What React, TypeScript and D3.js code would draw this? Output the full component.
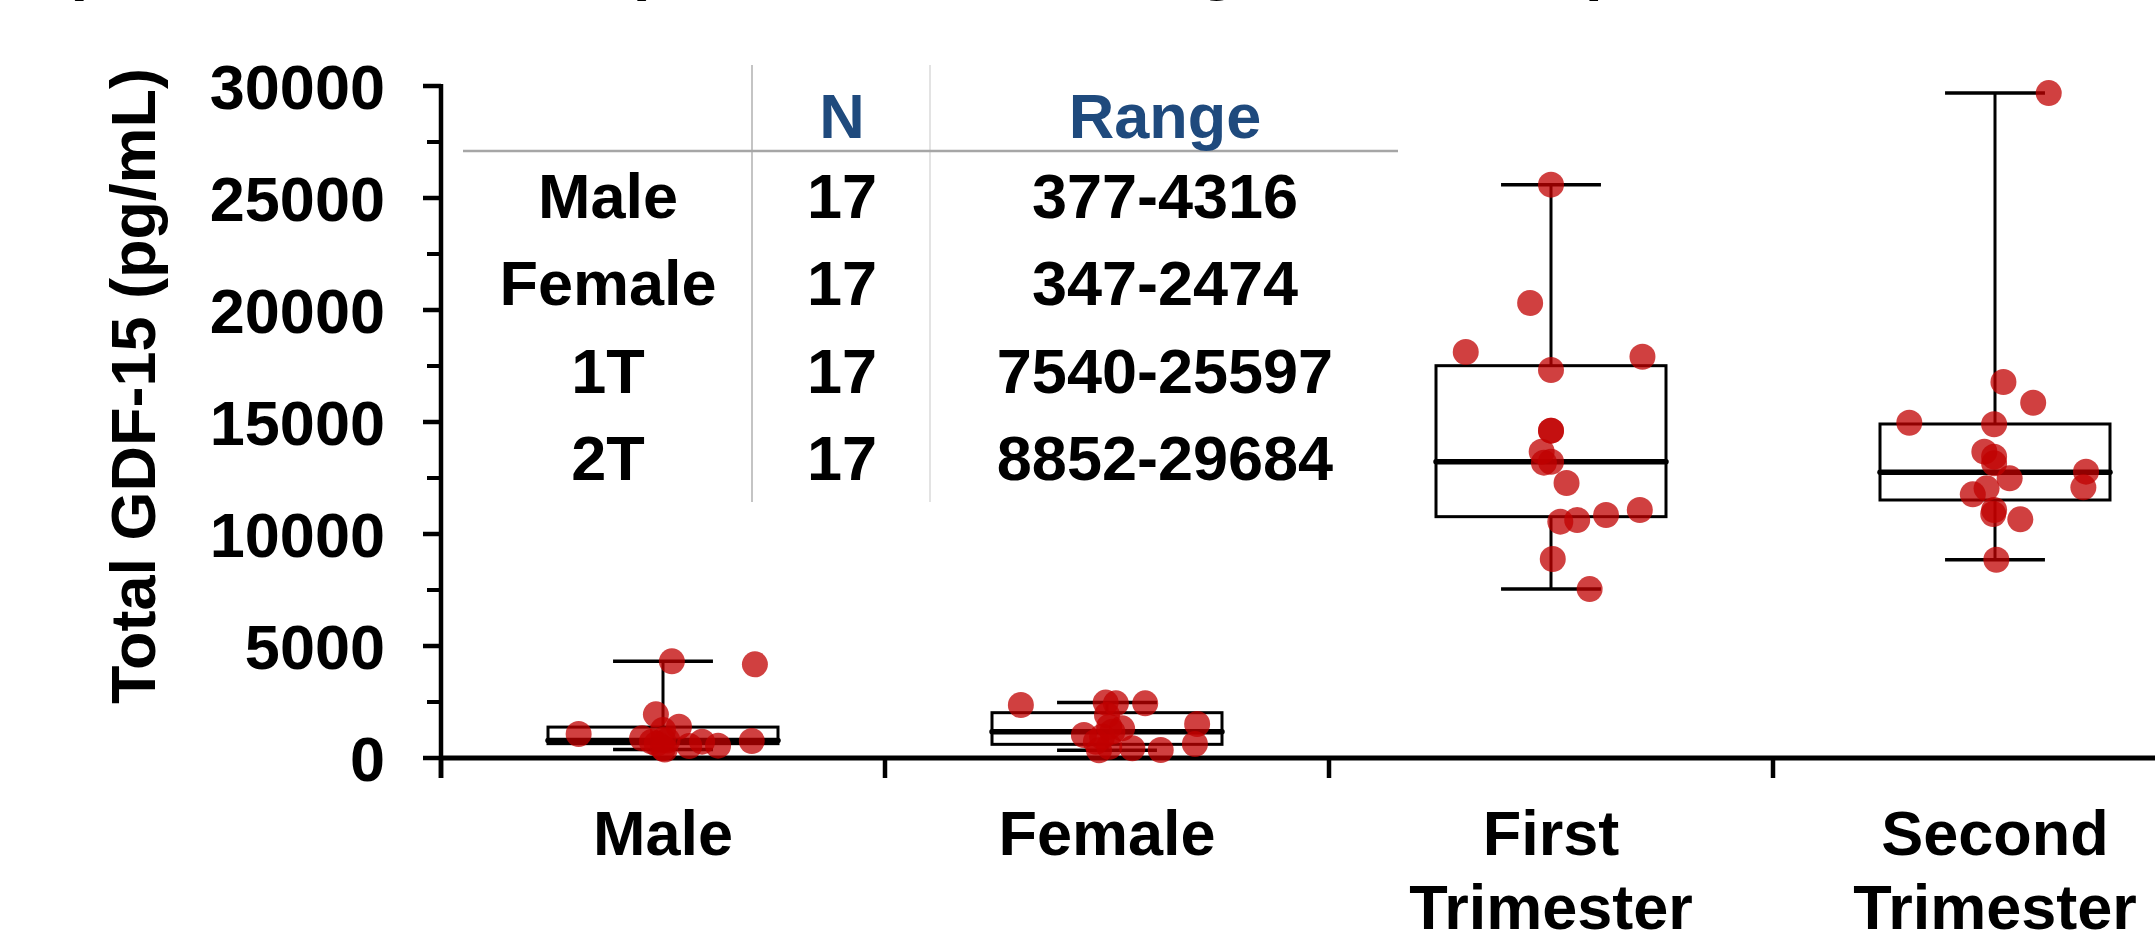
import React from 'react';
import * as d3 from 'd3';

// groups on the x axis
const categories = ['Male', 'Female', 'First Trimester', 'Second Trimester'];
const categoryLines = [['Male'], ['Female'], ['First', 'Trimester'], ['Second', 'Trimester']];

// individual GDF-15 values (pg/mL) and horizontal jitter (fraction of band)
const maleValues = [4316, 4180, 1950, 1400, 1250, 1071, 880, 800, 780, 760, 730, 730, 640, 550, 536, 433, 377];
const maleJitter = [0.02, 0.207, -0.016, 0.036, 0, -0.19, -0.047, 0, 0.01, 0.2, -0.025, 0.088, -0.014, 0.124, 0.059, 0, 0.004];

const femaleValues = [2474, 2440, 2440, 2366, 1920, 1518, 1397, 1325, 1175, 1027, 951, 728, 625, 504, 433, 357, 347];
const femaleJitter = [-0.003, 0.02, 0.086, -0.194, 0, 0.203, 0.005, 0.034, 0.012, -0.052, -0.011, -0.025, 0.198, 0.005, 0.057, 0.121, -0.018];

const firstValues = [25597, 20313, 18125, 17915, 17321, 14613, 14613, 13676, 13228, 13184, 12277, 11071, 10848, 10625, 10550, 8884, 7540];
const firstJitter = [0, -0.047, -0.192, 0.206, 0, 0, 0, -0.021, 0, -0.016, 0.035, 0.2, 0.124, 0.059, 0.021, 0.004, 0.087];

const secondValues = [29684, 16786, 15862, 14969, 14897, 13676, 13452, 13155, 12783, 12485, 12083, 12038, 11771, 11071, 10893, 10655, 8852];
const secondJitter = [0.121, 0.019, 0.086, -0.193, -0.002, -0.024, -0.002, -0.002, 0.205, 0.033, 0.199, -0.019, -0.05, -0.002, -0.004, 0.057, 0.003];

// box summaries
const boxMin = [377, 347, 7540, 8852];
const boxQ1 = [640, 610, 10774, 11518];
const boxMedian = [780, 1175, 13228, 12754];
const boxQ3 = [1380, 2023, 17514, 14911];
const boxMax = [4316, 2474, 25597, 29684];

// inset table
const tableHeader = ['', 'N', 'Range'];
const tableGroups = ['Male', 'Female', '1T', '2T'];
const tableN = ['17', '17', '17', '17'];
const tableRange = ['377-4316', '347-2474', '7540-25597', '8852-29684'];

const yTicks = [0, 5000, 10000, 15000, 20000, 25000, 30000];
const yMinorTicks = [2500, 7500, 12500, 17500, 22500, 27500];

// glyph tails of a caption line cut off at the top edge
const headerFragments = [
  { text: '(', x: 63 },
  { text: ')', x: 637 },
  { text: 'g', x: 1198 },
  { text: 'p', x: 1585 },
];

const W = 2155;
const H = 934;
const FONT = '"Liberation Sans", Arial, Helvetica, sans-serif';
const FS = 63;

const App = () => {
  const groups = [
    { values: maleValues, jitter: maleJitter },
    { values: femaleValues, jitter: femaleJitter },
    { values: firstValues, jitter: firstJitter },
    { values: secondValues, jitter: secondJitter },
  ];

  const axisX = 441;
  const y = d3.scaleLinear().domain([0, 30000]).range([758, 86]);
  const x = d3.scaleBand().domain(categories).range([axisX, axisX + 444 * 4]).padding(0);
  const bw = x.bandwidth();
  const boxW = bw * 0.518;
  const capW = bw * 0.225;

  const tableCols = [608, 842, 1165];
  const rowY = d3.scalePoint<number>().domain([0, 1, 2, 3]).range([218, 480]);

  return (
    <div style={{ position: 'absolute', left: 0, top: 0 }}>
      <svg width={W} height={H} style={{ display: 'block', background: '#fff' }} fontFamily={FONT} fontWeight="bold">
        {headerFragments.map((f, i) => (
          <text key={i} x={f.x} y={-12} fontSize={FS}>
            {f.text}
          </text>
        ))}

        {/* y axis title */}
        <text transform={`translate(155, 386) rotate(-90)`} textAnchor="middle" fontSize={FS}>
          Total GDF-15 (pg/mL)
        </text>

        {/* inset table */}
        <line x1={752} x2={752} y1={65} y2={502} stroke="#b0b0b0" strokeWidth={1.5} />
        <line x1={930} x2={930} y1={65} y2={502} stroke="#dadada" strokeWidth={1.5} />
        <line x1={463} x2={1398} y1={151} y2={151} stroke="#a6a6a6" strokeWidth={2.5} />
        {tableHeader.map((h, i) => (
          <text key={i} x={tableCols[i]} y={138} textAnchor="middle" fontSize={FS} fill="#1F4A7D">
            {h}
          </text>
        ))}
        {tableGroups.map((g, i) => (
          <g key={g} fontSize={FS} textAnchor="middle">
            <text x={tableCols[0]} y={rowY(i)}>{g}</text>
            <text x={tableCols[1]} y={rowY(i)}>{tableN[i]}</text>
            <text x={tableCols[2]} y={rowY(i)}>{tableRange[i]}</text>
          </g>
        ))}

        {/* y axis */}
        <line x1={axisX} x2={axisX} y1={y(30000) - 2} y2={778} stroke="#000" strokeWidth={4.5} />
        {yTicks.map((t) => (
          <g key={t}>
            <line x1={axisX - 18} x2={axisX} y1={y(t)} y2={y(t)} stroke="#000" strokeWidth={4.5} />
            <text x={385} y={y(t)} dy="0.36em" textAnchor="end" fontSize={FS}>
              {t}
            </text>
          </g>
        ))}
        {yMinorTicks.map((t) => (
          <line key={t} x1={axisX - 14} x2={axisX} y1={y(t)} y2={y(t)} stroke="#000" strokeWidth={4} />
        ))}

        {/* x axis */}
        <line x1={axisX} x2={W} y1={y(0)} y2={y(0)} stroke="#000" strokeWidth={5} />
        {categories.map((c) => (
          <line key={c} x1={x(c)!} x2={x(c)!} y1={y(0)} y2={778} stroke="#000" strokeWidth={4.5} />
        ))}
        {categories.map((c, i) => (
          <text key={c} textAnchor="middle" fontSize={FS}>
            {categoryLines[i].map((line, k) => (
              <tspan key={k} x={x(c)! + bw / 2} y={855 + k * 74}>
                {line}
              </tspan>
            ))}
          </text>
        ))}

        {/* box plots */}
        {categories.map((c, i) => {
          const cx = x(c)! + bw / 2;
          return (
            <g key={c} stroke="#000">
              <line x1={cx} x2={cx} y1={y(boxQ3[i])} y2={y(boxMax[i])} strokeWidth={3} />
              <line x1={cx} x2={cx} y1={y(boxQ1[i])} y2={y(boxMin[i])} strokeWidth={3} />
              <line x1={cx - capW / 2} x2={cx + capW / 2} y1={y(boxMax[i])} y2={y(boxMax[i])} strokeWidth={3.5} />
              <line x1={cx - capW / 2} x2={cx + capW / 2} y1={y(boxMin[i])} y2={y(boxMin[i])} strokeWidth={3.5} />
              <rect
                x={cx - boxW / 2}
                y={y(boxQ3[i])}
                width={boxW}
                height={y(boxQ1[i]) - y(boxQ3[i])}
                fill="none"
                strokeWidth={3}
              />
              <line
                x1={cx - boxW / 2}
                x2={cx + boxW / 2}
                y1={y(boxMedian[i])}
                y2={y(boxMedian[i])}
                strokeWidth={5.5}
                strokeLinecap="round"
              />
            </g>
          );
        })}

        {/* individual points */}
        {categories.map((c, i) => {
          const cx = x(c)! + bw / 2;
          return (
            <g key={c} fill="#C00000" fillOpacity={0.75}>
              {groups[i].values.map((v, k) => (
                <circle key={k} cx={cx + groups[i].jitter[k] * bw} cy={y(v)} r={13} />
              ))}
            </g>
          );
        })}
      </svg>
    </div>
  );
};

export default App;
